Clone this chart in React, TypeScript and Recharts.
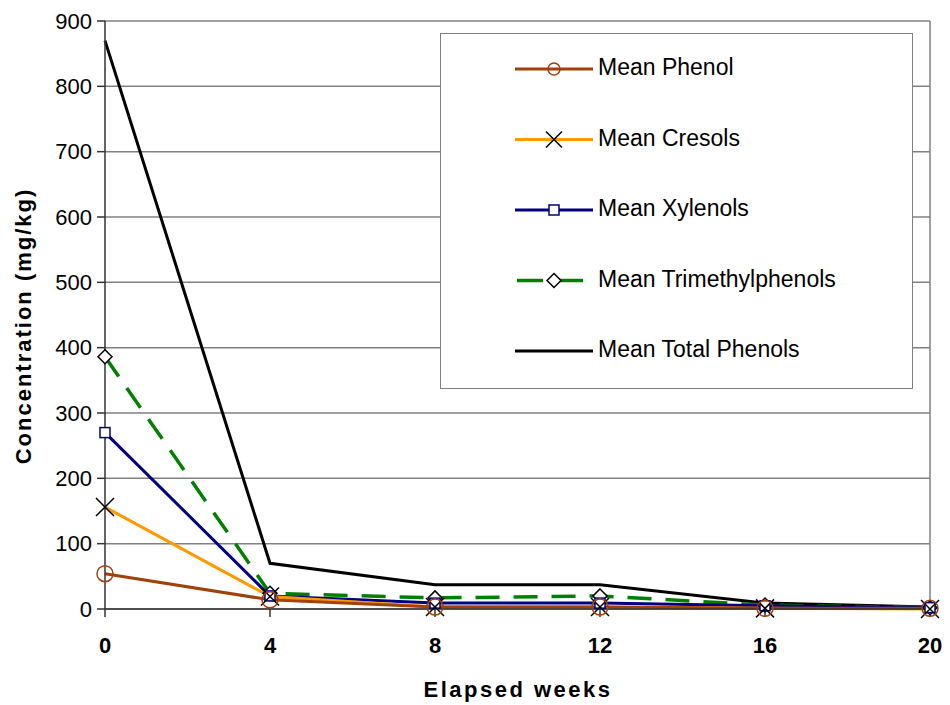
import React from "react";
import {
  CartesianGrid,
  Line,
  LineChart,
  ReferenceLine,
  XAxis,
  YAxis,
} from "recharts";

const weeks = [0, 4, 8, 12, 16, 20];
const phenol = [54, 14, 3, 3, 1, 1];
const cresols = [156, 19, 3, 3, 1, 0];
const xylenols = [270, 20, 9, 9, 5, 2];
const trimethyl = [386, 24, 17, 20, 6, 2];
const total = [870, 70, 37, 37, 9, 3];
const yTicks = [0, 100, 200, 300, 400, 500, 600, 700, 800, 900];

const data = weeks.map((w, i) => ({
  week: w,
  phenol: phenol[i],
  cresols: cresols[i],
  xylenols: xylenols[i],
  trimethyl: trimethyl[i],
  total: total[i],
}));

const FONT = "'Liberation Sans', Arial, sans-serif";

const circleDot = (p: any) => (
  <circle key={p.index} cx={p.cx} cy={p.cy} r={8} fill="none" stroke="#a0400a" strokeWidth={1.5} />
);
const crossDot = (p: any) => (
  <path
    key={p.index}
    d={`M${p.cx - 9},${p.cy - 9}L${p.cx + 9},${p.cy + 9}M${p.cx - 9},${p.cy + 9}L${p.cx + 9},${p.cy - 9}`}
    stroke="#000"
    strokeWidth={1.5}
    fill="none"
  />
);
const squareDot = (p: any) => (
  <rect key={p.index} x={p.cx - 5} y={p.cy - 5} width={10} height={10} fill="#fff" stroke="#000080" strokeWidth={1.5} />
);
const diamondDot = (p: any) => (
  <path
    key={p.index}
    d={`M${p.cx},${p.cy - 7}L${p.cx + 7},${p.cy}L${p.cx},${p.cy + 7}L${p.cx - 7},${p.cy}Z`}
    fill="#fff"
    stroke="#000"
    strokeWidth={1.5}
  />
);

const legendItems = [
  { name: "Mean Phenol", color: "#a0400a", dash: undefined, marker: "circle" },
  { name: "Mean Cresols", color: "#ff9900", dash: undefined, marker: "cross" },
  { name: "Mean Xylenols", color: "#000080", dash: undefined, marker: "square" },
  { name: "Mean Trimethylphenols", color: "#008000", dash: "26 14", marker: "diamond" },
  { name: "Mean Total Phenols", color: "#000", dash: undefined, marker: "none" },
];

// legend box and axis titles drawn on top of the chart
const Overlay = () => (
  <svg width={950} height={705} style={{ position: "absolute", left: 0, top: 0, pointerEvents: "none" }}>
    <g transform="translate(440,33)">
      <rect x={0.5} y={0.5} width={472} height={355} fill="#fff" stroke="#808080" />
      {legendItems.map((it, i) => {
        const y = 36 + i * 70.5;
        const p = { cx: 114, cy: y, index: i };
        return (
          <g key={it.name}>
            <line
              x1={it.dash ? 77 : 75}
              x2={it.dash ? 143 : 153}
              y1={y}
              y2={y}
              stroke={it.color}
              strokeWidth={it.dash ? 3.5 : 3}
              strokeDasharray={it.dash}
            />
            {it.marker === "circle" && <circle cx={114} cy={y} r={6} fill="none" stroke="#a0400a" strokeWidth={1.5} />}
            {it.marker === "cross" && (
              <path
                d={`M106,${y - 8}L122,${y + 8}M106,${y + 8}L122,${y - 8}`}
                stroke="#000"
                strokeWidth={1.5}
              />
            )}
            {it.marker === "square" && squareDot(p)}
            {it.marker === "diamond" && diamondDot(p)}
            <text x={158} y={y + 6} fontSize={23} fontFamily={FONT} fill="#000">
              {it.name}
            </text>
          </g>
        );
      })}
    </g>
    <text
      x={518}
      y={697}
      textAnchor="middle"
      fontSize={22}
      fontWeight="bold"
      letterSpacing={2.5}
      fontFamily={FONT}
      fill="#000"
    >
      Elapsed weeks
    </text>
    <text
      transform="translate(31,326) rotate(-90)"
      textAnchor="middle"
      fontSize={22}
      fontWeight="bold"
      letterSpacing={2}
      fontFamily={FONT}
      fill="#000"
    >
      Concentration (mg/kg)
    </text>
  </svg>
);

export default function App() {
  return (
    <div style={{ position: "absolute", left: 0, top: 0, width: 950, height: 705, background: "#fff" }}>
      <LineChart
        width={950}
        height={705}
        data={data}
        margin={{ top: 21, right: 20, left: 40, bottom: 66 }}
      >
        <CartesianGrid vertical={false} stroke="#808080" strokeWidth={1.5} />
        <ReferenceLine x={20} stroke="#808080" strokeWidth={1.5} />
        <XAxis
          dataKey="week"
          type="number"
          domain={[0, 20]}
          ticks={weeks}
          stroke="#333"
          strokeWidth={1.5}
          tickSize={8}
          tickMargin={20}
          height={30}
          tick={{ fontSize: 22, fontWeight: "bold", fill: "#000", fontFamily: FONT }}
        />
        <YAxis
          type="number"
          domain={[0, 900]}
          ticks={yTicks}
          width={65}
          stroke="#333"
          strokeWidth={1.5}
          tickSize={8}
          tickMargin={5}
          tick={{ fontSize: 22, fill: "#000", fontFamily: FONT }}
        />
        <Line dataKey="total" stroke="#000" strokeWidth={3} dot={false} isAnimationActive={false} />
        <Line dataKey="trimethyl" stroke="#008000" strokeWidth={3.5} strokeDasharray="24 14" dot={diamondDot} isAnimationActive={false} />
        <Line dataKey="xylenols" stroke="#000080" strokeWidth={3} dot={squareDot} isAnimationActive={false} />
        <Line dataKey="cresols" stroke="#ff9900" strokeWidth={3} dot={crossDot} isAnimationActive={false} />
        <Line dataKey="phenol" stroke="#a0400a" strokeWidth={3} dot={circleDot} isAnimationActive={false} />
      </LineChart>
      <Overlay />
    </div>
  );
}
